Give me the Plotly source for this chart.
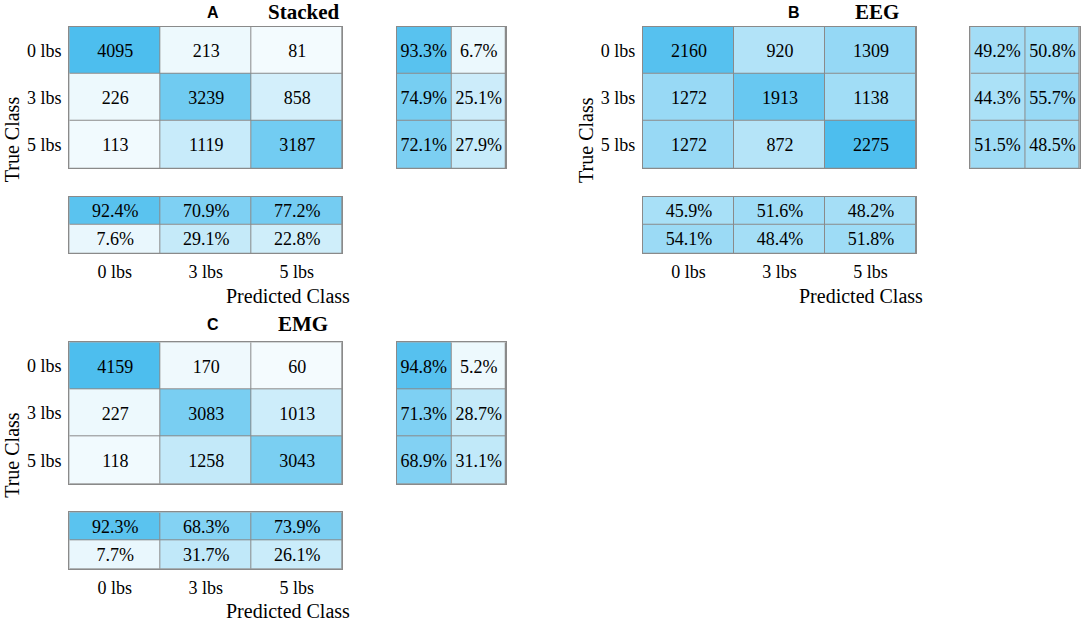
import plotly.graph_objects as go

W, H = 1084, 622

CLASSES = ["0 lbs", "3 lbs", "5 lbs"]
PANEL_LETTERS = ["A", "B", "C"]
PANEL_NAMES = ["Stacked", "EEG", "EMG"]

# confusion counts (rows = true class, cols = predicted class)
counts_stacked = [[4095, 213, 81], [226, 3239, 858], [113, 1119, 3187]]
counts_eeg = [[2160, 920, 1309], [1272, 1913, 1138], [1272, 872, 2275]]
counts_emg = [[4159, 170, 60], [227, 3083, 1013], [118, 1258, 3043]]

# row summary: [correct %, incorrect %] per true class
row_stacked = [[93.3, 6.7], [74.9, 25.1], [72.1, 27.9]]
row_eeg = [[49.2, 50.8], [44.3, 55.7], [51.5, 48.5]]
row_emg = [[94.8, 5.2], [71.3, 28.7], [68.9, 31.1]]

# column summary: first row correct %, second row incorrect % per predicted class
col_stacked = [[92.4, 70.9, 77.2], [7.6, 29.1, 22.8]]
col_eeg = [[45.9, 51.6, 48.2], [54.1, 48.4, 51.8]]
col_emg = [[92.3, 68.3, 73.9], [7.7, 31.7, 26.1]]

counts = [counts_stacked, counts_eeg, counts_emg]
rows = [row_stacked, row_eeg, row_emg]
cols = [col_stacked, col_eeg, col_emg]

SERIF = "Liberation Serif"
SANS = "Liberation Sans"
GRID = "#8a8a8a"
SCALE = [[0, "rgb(246,252,254)"], [1, "rgb(77,190,238)"]]

# panel pixel offsets (x, y) relative to panel A
offsets = [(0, 0), (573.7, 0), (0, 315.6)]
title_pos = [((213, 12.5), (303.5, 12.5)),
             ((794.3, 12.5), (876.7, 12.5)),
             ((213.3, 324), (303, 324))]


def dom_x(x0, x1):
    return [x0 / W, x1 / W]


def dom_y(y0, y1):
    return [1 - y1 / H, 1 - y0 / H]


def note(x, y, text, font, angle=0):
    return dict(x=x / W, y=1 - y / H, xref="paper", yref="paper",
                xanchor="center", yanchor="middle", text=text,
                textangle=angle, showarrow=False, font=font)


fig = go.Figure()
layout = {}
annotations = []
n = 0

for p in range(3):
    ox, oy = offsets[p]
    boxes = [
        (69.3 + ox, 342.3 + ox, 26.7 + oy, 168.3 + oy),   # main
        (396.7 + ox, 506 + ox, 26.7 + oy, 168.3 + oy),    # row summary
        (69.3 + ox, 342.3 + ox, 196.7 + oy, 253.3 + oy),  # column summary
    ]
    data = [counts[p], rows[p], cols[p]]
    for k in range(3):
        n += 1
        z = data[k]
        if k == 0:
            text = [[str(v) for v in r] for r in z]
            zmax = max(max(r) for r in z)
            xs, ys = CLASSES, CLASSES
        else:
            text = [[f"{v:.1f}%" for v in r] for r in z]
            zmax = 100
            xs = CLASSES if k == 2 else ["c", "i"]
            ys = CLASSES if k == 1 else ["c", "i"]
        fig.add_trace(go.Heatmap(
            z=z, x=xs, y=ys, text=text, texttemplate="%{text}",
            textfont=dict(family=SERIF, size=18, color="black"),
            colorscale=SCALE, zmin=0, zmax=zmax, showscale=False,
            xgap=1, ygap=1, hoverinfo="skip",
            xaxis=f"x{n}", yaxis=f"y{n}",
        ))
        x0, x1, y0, y1 = boxes[k]
        xa = dict(domain=dom_x(x0, x1), anchor=f"y{n}", showgrid=False, zeroline=False,
                  showline=True, mirror=True, linecolor=GRID, linewidth=1.2,
                  ticks="", showticklabels=(k == 2),
                  tickfont=dict(family=SERIF, size=18, color="black"),
                  ticklabelstandoff=2)
        ya = dict(domain=dom_y(y0, y1), anchor=f"x{n}", showgrid=False, zeroline=False,
                  showline=True, mirror=True, linecolor=GRID, linewidth=1.2,
                  ticks="", showticklabels=(k == 0), autorange="reversed",
                  tickfont=dict(family=SERIF, size=18, color="black"),
                  ticklabelstandoff=3)
        layout[f"xaxis{n}"] = xa
        layout[f"yaxis{n}"] = ya

    # titles
    (lx, ly), (tx, ty) = title_pos[p]
    annotations.append(note(lx, ly, "<b>" + PANEL_LETTERS[p] + "</b>",
                            dict(family=SANS, size=16, color="black")))
    annotations.append(note(tx, ty, "<b>" + PANEL_NAMES[p] + "</b>",
                            dict(family=SERIF, size=21, color="black")))
    # axis titles
    annotations.append(note(11.7 + ox, 139.5 + oy, "True Class",
                            dict(family=SERIF, size=20, color="black"), angle=-90))
    annotations.append(note(287.6 + ox, 295.7 + oy, "Predicted Class",
                            dict(family=SERIF, size=20, color="black")))

fig.update_layout(
    width=W, height=H, margin=dict(l=0, r=0, t=0, b=0),
    paper_bgcolor="white", plot_bgcolor=GRID,
    annotations=annotations, showlegend=False,
    **layout,
)

fig.write_html("out.html", config={"displayModeBar": False},
               post_script="document.body.style.margin='0';")
